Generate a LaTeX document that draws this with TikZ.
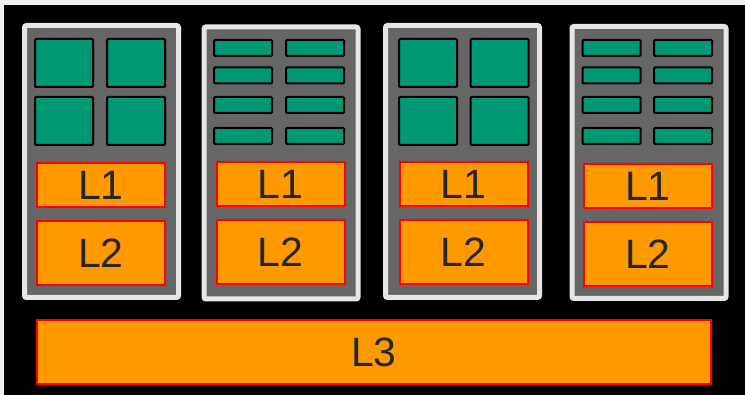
\documentclass[tikz,border=0pt]{standalone}
\usepackage{fontspec}
\setmainfont{Liberation Sans}
\definecolor{framewhite}{RGB}{240,240,240}
\definecolor{rimgray}{RGB}{230,230,230}
\definecolor{coregray}{RGB}{102,102,102}
\definecolor{alugreen}{RGB}{0,153,115}
\definecolor{cacheorange}{RGB}{255,153,0}
\definecolor{labelgray}{RGB}{38,38,38}
\begin{document}
\begin{tikzpicture}
            [x=1pt,y=-1pt,
             core/.style ={draw=rimgray,fill=coregray,line width=5pt,rounded corners=2pt,minimum width=154pt,minimum height=272pt,inner sep=0pt},
             alu/.style ={draw=black,fill=alugreen,line width=2pt,rounded corners=1pt,minimum width=58pt,minimum height=48pt,inner sep=0pt},
             lane/.style ={alu,minimum height=16pt},
             cache/.style ={draw=red,fill=cacheorange,line width=2pt,minimum width=128pt,inner sep=0pt,text=labelgray,font=\fontsize{41}{41}\selectfont}]
            \useasboundingbox (0,0) rectangle (745,395);
            \fill[framewhite] (0,0) rectangle (745,395);
            \fill[black] (4,5) rectangle (745,395);
            % cores
            \foreach \n/\x/\y in {1/101.5/161.5,2/281/163,3/462.5/161.5,4/649/162.5}
              \node[core] (core\n) at (\x,\y) {};
            % big units
            \foreach \x [count=\c] in {64,136,428,499.5}
              \foreach \y [count=\r] in {63,121}
                \node[alu] (alu\c\r) at (\x,\y) {};
            % small units
            \foreach \x [count=\c] in {243,315,611.5,683}
              \foreach \y [count=\r] in {48,75.5,105,136}
                \node[lane] (lane\c\r) at (\x,\y) {};
            % caches
            \node[cache,minimum height=44pt] (l1a) at (101,185){L1};
            \node[cache,minimum height=64pt] (l2a) at (101,253){L2};
            \node[cache,minimum height=44pt] (l1b) at (280.5,184.5){L1};
            \node[cache,minimum height=64pt] (l2b) at (280.5,252){L2};
            \node[cache,minimum height=44pt] (l1c) at (463.5,184.5){L1};
            \node[cache,minimum height=64pt] (l2c) at (463.5,252){L2};
            \node[cache,minimum height=44pt] (l1d) at (648,186){L1};
            \node[cache,minimum height=64pt] (l2d) at (648,254.5){L2};
            \node[cache,minimum width=674pt,minimum height=64pt] (l3) at (374,352){L3};
        \end{tikzpicture}
\end{document}
